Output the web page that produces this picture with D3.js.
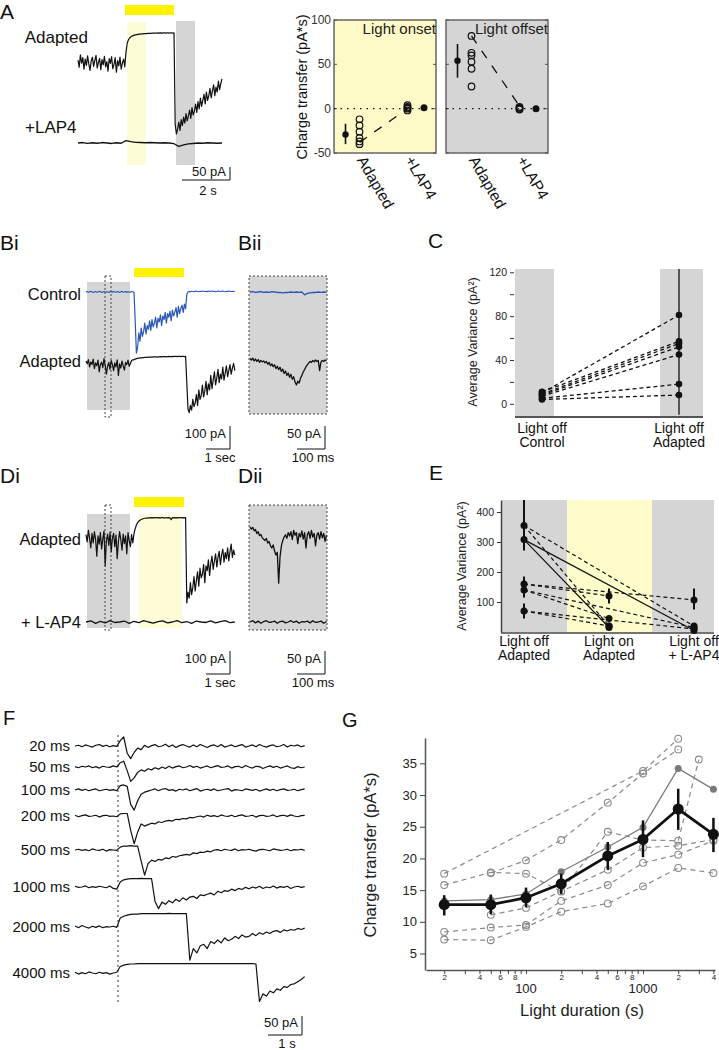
<!DOCTYPE html>
<html><head><meta charset="utf-8">
<script src="https://cdn.jsdelivr.net/npm/d3@7"></script>
<style>
body{margin:0;background:#fff;}
svg{display:block;font-family:"Liberation Sans",Arial,Helvetica,sans-serif;}
</style></head><body>
<svg id="c" width="719" height="1050"></svg>
<script>
// ================= DATA =================
// Panel A traces (pA; adapted every 0.05 s, LAP4 every 0.2 s)
const aAdapted = [8,-22,30,-5,18,-30,12,-14,26,-8,-35,4,20,-18,6,28,-25,-2,15,-32,
  10,-12,24,-20,2,-38,14,-6,22,-28,-10,18,-42,6,-16,20,-30,-4,12,-20,
  40,78,92,100,105,108,110,112,113,114,115,116,116,117,117,118,118,118,119,119,119,119,120,120,120,120,120,121,120,121,120,121,121,120,121,121,120,121,121,120,121,
  -260,-300,-280,-250,-285,-240,-265,-230,-255,-215,-245,-225,-200,-235,-190,-220,-205,-175,-210,-165,
  -195,-150,-185,-160,-135,-175,-125,-160,-140,-110,-150,-120,-95,-140,-105,-125,-80,-115,-90,-70];
const aLap4 = [0,2,-2,1,-1,2,0,-2,1,-1,10,6,3,2,1,2,1,0,1,0,-3,-14,-8,-4,-2,0,-1,1,0,-1,0];
// Panel A charge transfer (pA*s)
const onsetAdapted = [-12,-19,-26,-33,-37,-40];
const onsetLap4 = [4,2,0,-2,1];
const onsetMean = {adapted:-29, lo:-40, hi:-17, lap4:1};
const onsetLink = [-38,0];
const offsetAdapted = [82,63,60,53,45,25];
const offsetLap4 = [2,1,0,-1];
const offsetMean = {adapted:54, lo:35, hi:73, lap4:0};
const offsetLink = [82,3];
const aTicks = [-50,0,50,100];

// Panel Bi traces (pA, every 0.05 s)
const biControl = [0,2,-1,1,3,0,-2,1,2,-1,0,3,1,-2,0,2,-1,1,0,-2,2,1,-1,3,0,-1,2,0,-2,1,3,-1,0,2,-2,1,0,-1,2,0,
  0,-120,-255,-230,-170,-205,-150,-185,-165,-130,-175,-140,-155,-120,-160,-115,-145,-130,-105,-150,
  -110,-125,-95,-140,-100,-115,-85,-130,-90,-105,-80,-120,-75,-100,-85,-65,-105,-60,-90,-70,-55,-85,-50,-70,
  -10,0,2,1,3,2,1,3,4,2,1,3,2,4,3,2,3,1,4,2,3,4,2,3,1,2,4,3,2,3,4,2,1,3,2,4,3,2,3,2,3];
const biAdapted = [0,-12,6,-25,-4,-15,8,-32,-8,-20,4,-45,-14,-5,-28,10,-18,-55,-22,-6,
  -35,2,-15,-40,-8,-25,5,-60,-12,-30,0,-20,-38,-6,-15,4,-22,-10,2,5,
  5,8,10,11,12,13,13,14,14,15,15,15,16,16,16,16,17,17,17,16,17,17,18,17,18,18,18,17,18,19,18,18,19,18,19,19,18,19,19,18,19,19,18,19,
  -90,-200,-215,-185,-205,-160,-190,-175,-140,-185,-120,-160,-145,-100,-150,-125,-85,-140,-95,-120,
  -60,-115,-80,-45,-100,-70,-35,-90,-55,-75,-25,-80,-50,-20,-65,-40,-15,-55,-30,-10,-40];
// Panel Bii traces (pA; control every 10 ms, adapted every 5 ms)
const biiControl = [0,1,-1,0,1,-1,0,-1,1,0,-1,-1,-2,-1,-1,0,-1,0,-1,0,-6,-3,-2,-1,-1,0,-1,0,-1];
const biiAdapted = [3,0,4,-2,2,-3,1,-5,-1,-4,-2,-6,-3,-9,-5,-12,-8,-14,-10,-18,-13,
  -20,-15,-24,-19,-28,-23,-32,-27,-36,-30,-40,-35,-46,-52,-44,-48,-38,-32,-25,-20,
  -14,-10,-6,-3,-5,-1,-4,0,-3,-1,-22,-4,-1,-3,0,-2];

// Panel C (pA^2)
const cCategories = ['Light off|Control','Light off|Adapted'];
const cControl = [10,11,9,8,7,5,4];
const cAdapted = [81,57,55,52,45,18,8];
const cAdaptedErr = [-10,123];
const cTicks = [0,20,40,60,80,100,120];

// Panel Di / Dii traces (pA)
const diAdapted = [10,-20,28,-5,-45,15,-25,22,-10,-80,5,-30,18,-50,-8,25,-120,-15,12,-35,
  20,-60,-5,15,-40,8,-90,-20,22,-10,-55,12,-28,5,-70,18,-15,-40,10,-25,
  15,35,50,60,66,70,73,75,77,78,79,79,80,80,81,80,81,80,81,81,80,81,80,81,81,80,79,81,80,81,80,72,81,80,81,80,81,80,81,81,80,81,80,81,
  -275,-230,-255,-190,-240,-210,-165,-225,-180,-145,-205,-130,-170,-155,-115,-190,-120,-140,-95,-160,
  -110,-80,-135,-100,-70,-125,-85,-60,-115,-75,-50,-105,-65,-90,-45,-100,-60,-30,-85,-55,-75];
const diLap4 = [0,5,-6,3,-4,6,-2,0,4,-6,3,-3,6,0,-5,2,5,-4,0,6,-3,2,-6,4,0,-2,5,-4,2,6,-3,0];
const diiAdapted = [23,18,22,14,17,8,12,3,6,-2,-5,-8,-3,-14,-10,-20,-25,-18,-32,-41,
  -35,-105,-45,-20,-8,0,5,-3,10,2,12,-6,15,4,10,-15,8,0,14,-5,
  10,-25,5,12,-3,15,0,8,-20,5,10,-5,12,-2,8,-10,4];
const diiLap4 = [0,3,-2,2,-3,1,3,-1,0,2,-3,1,2,-2,0,3,-1,2,-3,1,0,2,-2,3,-1,0,2,-3,1];

// Panel E (pA^2): [light off adapted, light on adapted, light off + L-AP4]
const eCategories = ['Light off|Adapted','Light on|Adapted','Light off|+ L-AP4'];
const eOff  = [355,308,160,140,70];
const eOn   = [20,15,120,45,20];
const eLap4 = [20,5,107,15,10];
const eOffErr  = [[300,445],[272,345],[140,185],[115,165],[45,95]];
const eOnErr   = [[15,25],[10,20],[95,145],[35,55],[12,28]];
const eLap4Err = [[14,26],[2,10],[75,145],[8,22],[5,15]];
const eSolid = [false,true,false,false,false];
const eTicks = [100,200,300,400];

// Panel F traces (pA, every 0.1 s)
const fLabels = ['20 ms','50 ms','100 ms','200 ms','500 ms','1000 ms','2000 ms','4000 ms'];
const f20 = [0,2,-2,3,0,-3,2,4,-1,2,-2,1,-1, 15,25,-20,-35,-18,-6,-10,
  2,-4,1,4,-2,0,5,-2,3,-4,1,4,0,-3,3,-2,4,0,-4,1,3,-2,4,-3,0,3,-2,1,4,-3,0,3,-2,4,0,-3,1,3,-2,0,4,-3,2,0,3,-2,1];
const f50 = [1,-2,2,0,3,-2,1,-3,2,0,-1,3,0, 12,16,-10,-40,-30,-15,-8,-12,
  -5,-8,-2,-6,0,-4,2,-3,1,3,-2,0,4,-1,2,-3,0,3,-2,1,4,-1,0,3,-3,1,2,-2,4,0,-3,2,1,-4,0,3,-1,2,-3,0,3,-2,-4,1,-2,0];
const f100 = [0,3,-1,2,-2,1,3,-2,0,2,-1,1,-2, 12,14,10,-40,-56,-30,-12,-6,-3,
  0,3,-2,2,4,-1,1,-3,2,0,3,-2,1,4,-3,0,2,-1,3,-2,0,2,4,-3,1,0,-2,3,1,-1,2,-3,0,3,-1,2,-2,1,3,-1,0,2,-2,1,3];
const f200 = [2,-2,1,3,-1,0,2,-3,1,2,-1,0,-2,
  6,7,7,-40,-77,-45,-22,-28,-24,-20,-22,-16,-18,-14,-12,-14,-9,-10,-7,-8,-4,-5,-2,
  0,-3,2,-1,1,-2,3,0,-1,2,-2,1,3,-1,0,2,-3,1,2,-1,0,3,-2,1,2,-1,3,0,-2,1,2];
const f500 = [0,2,-1,1,-2,3,0,-1,2,-3,1,0,-1, 8,11,11,12,11,11,
  -30,-70,-38,-28,-32,-26,-28,-22,-24,-18,-20,-16,-14,-12,-14,-8,-10,-6,-7,-3,-5,0,
  1,-2,2,0,-1,3,-2,1,0,2,-1,-3,1,2,0,-2,3,1,-1,0,2,-2,1,0,2,-1];
const f1000 = [2,-1,0,3,-2,1,-1,2,0,-2,3,-4,-6, 14,20,22,23,23,23,24,23,23,23,
  -40,-60,-42,-48,-38,-44,-34,-40,-30,-36,-28,-26,-32,-22,-24,-20,-17,-22,-12,-16,-10,-12,-6,-10,
  -4,-7,-1,-5,0,-3,2,-4,0,-2,3,-3,1,-1,2,-4,0,2,-1,1];
const f2000 = [3,-2,4,0,-3,2,-1,3,-2,1,0,2,-1,
  25,30,33,35,36,36,37,37,37,37,37,37,37,37,38,37,37,37,37,37,
  -92,-60,-72,-52,-48,-60,-40,-46,-36,-44,-30,-38,-34,-26,-32,-22,-28,-26,-18,-24,-16,-20,-14,-18,-12,-10,-15,-8,-11,-7,-9,-4,-7,-3];
const f4000 = [2,-3,1,-2,3,0,-2,2,-1,1,-3,0,2,
  18,22,24,25,25,26,26,26,26,26,26,26,26,26,26,26,26,26,26,26,26,26,26,26,26,26,26,26,26,26,26,26,26,26,26,26,26,26,26,25,
  -79,-58,-64,-50,-55,-44,-48,-38,-40,-32,-30,-24,-18,-10];

// Panel G (charge transfer pA*s vs light duration ms)
const gDur    = [20,50,100,200,500,1000,2000,4000];
const gMean   = [12.7,12.7,13.8,16.0,20.4,23.0,27.8,23.8];
const gErrLo  = [11.0,11.2,12.3,14.4,18.2,20.2,24.5,21.0];
const gErrHi  = [14.2,14.3,15.4,17.6,22.6,26.0,31.0,26.4];
const gGray   = [13.3,13.5,14.4,17.9,21.8,24.9,34.2,30.9];
const gCell1Dur = [20,1000,2000],                 gCell1 = [17.6,33.8,38.9];
const gCell2Dur = [50,100,200,500,1000,2000],     gCell2 = [17.7,19.7,22.9,28.8,33.4,37.2];
const gCell3Dur = [20,50,100,200,500,1000,2000,3000], gCell3 = [15.8,17.8,17.6,14.8,24.2,22.9,22.8,35.6];
const gCell4Dur = [50,100,200,500,1000,2000,4000], gCell4 = [11.1,12.2,14.8,18.2,21.7,22.0,23.0];
const gCell5Dur = [20,50,100,200,500,1000,2000,4000], gCell5 = [8.4,9.1,9.5,13.3,15.8,19.3,20.6,22.8];
const gCell6Dur = [20,50,100,200,500,1000,2000,4000], gCell6 = [7.2,7.1,9.2,11.6,12.9,15.6,18.5,17.7];
const gYTicks = [5,10,15,20,25,30,35];
const gXTicks = [20,30,40,50,60,70,80,90,100,200,300,400,500,600,700,800,900,1000,2000,3000,4000];

// ================= DRAWING =================
const svg = d3.select('#c');
const INK = '#111', GRAY = '#d5d5d5', PALE = '#fdfac8', BRIGHT = '#fff200', BLUE = '#2a56b8';

function text(g, x, y, s, o = {}) {
  const t = g.append('text').attr('x', x).attr('y', y).text(s)
    .attr('font-size', o.size || 14).attr('text-anchor', o.anchor || 'start')
    .attr('fill', o.fill || INK);
  if (o.transform) t.attr('transform', o.transform);
  return t;
}
function rect(g, x0, y0, x1, y1, fill, o = {}) {
  const r = g.append('rect').attr('x', x0).attr('y', y0).attr('width', x1 - x0).attr('height', y1 - y0).attr('fill', fill);
  if (o.stroke) r.attr('stroke', o.stroke).attr('stroke-width', o.sw || 1).attr('stroke-dasharray', o.dash || null);
  return r;
}
function line(g, x1, y1, x2, y2, o = {}) {
  return g.append('line').attr('x1', x1).attr('y1', y1).attr('x2', x2).attr('y2', y2)
    .attr('stroke', o.color || INK).attr('stroke-width', o.w || 1).attr('stroke-dasharray', o.dash || null);
}
function trace(g, vals, o) {
  const xs = d3.scaleLinear().domain([0, 1]).range([o.x0, o.x0 + o.pxPerUnit]);
  const ys = d3.scaleLinear().domain([0, 1]).range([o.y0, o.y0 - o.pxPerPA]);
  const ln = d3.line().x((d, i) => xs(i * o.dt)).y(d => ys(d));
  g.append('path').attr('d', ln(vals)).attr('fill', 'none').attr('stroke', o.color || INK)
    .attr('stroke-width', o.w || 1.2).attr('stroke-linejoin', 'round');
}
function scaleBar(g, x, yTop, yBot, xLeft, vLab, vLabY, hLab, hLabY, size) {
  line(g, x, yTop, x, yBot); line(g, xLeft, yBot, x, yBot);
  text(g, x - 4, vLabY, vLab, {size: size || 13, anchor: 'end'});
  text(g, (xLeft + x) / 2 + 2, hLabY, hLab, {size: size || 13, anchor: 'middle'});
}

// ---------- Panel A ----------
const gA = svg.append('g');
text(gA, 0, 19, 'A', {size: 21});
rect(gA, 125, 5, 174, 15, BRIGHT);
rect(gA, 127, 22, 146, 165, '#fefcd6');
rect(gA, 176, 21, 195, 165, GRAY);
text(gA, 88, 43, 'Adapted', {size: 17, anchor: 'end'});
text(gA, 25, 133, '+LAP4', {size: 17});
trace(gA, aAdapted, {x0: 78, pxPerUnit: 24, dt: 0.05, y0: 62, pxPerPA: 0.24, w: 1.2});
trace(gA, aLap4, {x0: 78, pxPerUnit: 24, dt: 0.2, y0: 143, pxPerPA: 0.24, w: 1.3});
scaleBar(gA, 230, 167, 180, 182, '50 pA', 176, '2 s', 195, 13);

// A right: charge transfer
const aY = d3.scaleLinear().domain([-50, 100]).range([153, 20]);
const aSlots = d3.scaleOrdinal().domain(['mA', 'A', 'L', 'mL']).range([11.5, 25.5, 73.5, 90]);
text(gA, 0, 0, 'Charge transfer (pA*s)', {size: 14.5, anchor: 'middle', transform: 'translate(307,87) rotate(-90)'});
aTicks.forEach(t => text(gA, 331, aY(t) + 4, t, {size: 12, anchor: 'end', fill: '#333'}));
function aPanel(left, fill, label, pts, lap, mean, link) {
  const w = 102;
  const X = k => left + aSlots(k);
  rect(gA, left, aY(100), left + w, aY(-50), fill, {stroke: '#666', sw: 1.5});
  aTicks.forEach(t => { line(gA, left, aY(t), left + 3, aY(t), {color: '#555'}); line(gA, left + w - 3, aY(t), left + w, aY(t), {color: '#555'}); });
  line(gA, left, aY(0), left + w, aY(0), {dash: '1.5,5', w: 1.3});
  text(gA, left + w, 34, label, {size: 15, anchor: 'end', fill: '#222'});
  line(gA, X('A'), aY(link[0]), X('L'), aY(link[1]), {dash: '9,9', w: 1.3});
  line(gA, X('mA'), aY(mean.lo), X('mA'), aY(mean.hi), {w: 1.6});
  gA.append('circle').attr('cx', X('mA')).attr('cy', aY(mean.adapted)).attr('r', 3.2).attr('fill', INK);
  gA.append('circle').attr('cx', X('mL')).attr('cy', aY(mean.lap4)).attr('r', 3.5).attr('fill', INK);
  pts.forEach(v => gA.append('circle').attr('cx', X('A')).attr('cy', aY(v)).attr('r', 3.3).attr('fill', 'none').attr('stroke', INK).attr('stroke-width', 1.2));
  lap.forEach(v => gA.append('circle').attr('cx', X('L')).attr('cy', aY(v)).attr('r', 3.3).attr('fill', 'none').attr('stroke', INK).attr('stroke-width', 1.2));
  text(gA, 0, 0, 'Adapted', {size: 15.5, transform: `translate(${X('A') - 3},160) rotate(60)`});
  text(gA, 0, 0, '+LAP4', {size: 15.5, transform: `translate(${X('L') - 3},160) rotate(60)`});
}
aPanel(334, PALE, 'Light onset', onsetAdapted, onsetLap4, onsetMean, onsetLink);
aPanel(446, GRAY, 'Light offset', offsetAdapted, offsetLap4, offsetMean, offsetLink);

// ---------- Panel Bi / Bii ----------
const gB = svg.append('g');
text(gB, 0, 250, 'Bi', {size: 21});
text(gB, 238, 250, 'Bii', {size: 21});
rect(gB, 134, 268, 184, 277, BRIGHT);
rect(gB, 87, 282, 130, 410, GRAY);
rect(gB, 105, 276, 111, 417, 'none', {stroke: '#444', dash: '2,2'});
text(gB, 81, 300, 'Control', {size: 16.5, anchor: 'end'});
text(gB, 81, 367, 'Adapted', {size: 16.5, anchor: 'end'});
trace(gB, biControl, {x0: 86, pxPerUnit: 24, dt: 0.05, y0: 292, pxPerPA: 0.24, color: BLUE, w: 1.2});
trace(gB, biAdapted, {x0: 86, pxPerUnit: 24, dt: 0.05, y0: 361, pxPerPA: 0.24, w: 1.2});
scaleBar(gB, 230, 426, 449, 206, '100 pA', 438, '1 sec', 462, 13);
rect(gB, 249, 276, 327, 414, GRAY, {stroke: '#444', dash: '2,2'});
trace(gB, biiControl, {x0: 250, pxPerUnit: 0.273, dt: 10, y0: 292, pxPerPA: 0.48, color: BLUE, w: 1.3});
trace(gB, biiAdapted, {x0: 250, pxPerUnit: 0.273, dt: 5, y0: 360, pxPerPA: 0.48, w: 1.3});
scaleBar(gB, 325, 426, 449, 297, '50 pA', 438, '100 ms', 462, 13);

// ---------- Panel C ----------
const gC = svg.append('g');
text(gC, 428, 248, 'C', {size: 21});
const cY = d3.scaleLinear().domain([-12, 123]).range([417, 269]);
const cX = d3.scalePoint().domain(cCategories).range([542, 679]);
rect(gC, 515, 269, 554, 417, GRAY);
rect(gC, 660, 269, 703, 417, GRAY);
const cAx = gC.append('g').attr('transform', 'translate(514,0)')
  .call(d3.axisLeft(cY).tickValues(cTicks).tickSize(4).tickSizeOuter(0).tickFormat(d => d % 40 === 0 ? d : ''));
cAx.select('.domain').remove();
cAx.selectAll('line').attr('stroke', '#333');
cAx.selectAll('text').attr('font-size', 10.5).attr('fill', '#222').attr('font-family', null);
line(gC, 515, 417, 703, 417, {color: '#555', w: 2});
text(gC, 0, 0, 'Average Variance (pA²)', {size: 12.5, anchor: 'middle', fill: '#222', transform: 'translate(477,342) rotate(-90)'});
cControl.forEach((v, i) => line(gC, cX(cCategories[0]), cY(v), cX(cCategories[1]), cY(cAdapted[i]), {dash: '4,3', w: 1.3}));
line(gC, cX(cCategories[1]), cY(cAdaptedErr[0]), cX(cCategories[1]), cY(cAdaptedErr[1]), {w: 1.3});
cControl.forEach(v => gC.append('circle').attr('cx', cX(cCategories[0])).attr('cy', cY(v)).attr('r', 3.3).attr('fill', INK));
cAdapted.forEach(v => gC.append('circle').attr('cx', cX(cCategories[1])).attr('cy', cY(v)).attr('r', 3.3).attr('fill', INK));
cCategories.forEach(c => {
  const [l1, l2] = c.split('|');
  text(gC, cX(c), 433, l1, {size: 14, anchor: 'middle'});
  text(gC, cX(c), 447, l2, {size: 14, anchor: 'middle'});
});

// ---------- Panel Di / Dii ----------
const gD = svg.append('g');
text(gD, 0, 483, 'Di', {size: 21});
text(gD, 238, 483, 'Dii', {size: 21});
rect(gD, 134, 497, 184, 507, BRIGHT);
rect(gD, 87, 514, 130, 628, GRAY);
rect(gD, 139, 514, 182, 628, '#fefcd6');
rect(gD, 105, 505, 111, 630, 'none', {stroke: '#444', dash: '2,2'});
text(gD, 81, 545, 'Adapted', {size: 16.5, anchor: 'end'});
text(gD, 81, 628, '+ L-AP4', {size: 16.5, anchor: 'end'});
trace(gD, diAdapted, {x0: 86, pxPerUnit: 24, dt: 0.05, y0: 537, pxPerPA: 0.24, w: 1.2});
trace(gD, diLap4, {x0: 86, pxPerUnit: 24, dt: 0.2, y0: 622, pxPerPA: 0.24, w: 1.3});
scaleBar(gD, 230, 651, 674, 206, '100 pA', 663, '1 sec', 687, 13);
rect(gD, 249, 505, 327, 630, GRAY, {stroke: '#444', dash: '2,2'});
trace(gD, diiAdapted, {x0: 250, pxPerUnit: 0.273, dt: 5, y0: 537, pxPerPA: 0.44, w: 1.3});
trace(gD, diiLap4, {x0: 250, pxPerUnit: 0.273, dt: 10, y0: 622, pxPerPA: 0.44, w: 1.3});
scaleBar(gD, 325, 651, 674, 297, '50 pA', 663, '100 ms', 687, 13);

// ---------- Panel E ----------
const gE = svg.append('g');
text(gE, 429, 480, 'E', {size: 21});
const eY = d3.scaleLinear().domain([0, 440]).range([632, 500]);
const eX = d3.scalePoint().domain(eCategories).range([524, 694]);
rect(gE, 502, 500, 567, 632, GRAY);
rect(gE, 567, 500, 652, 632, '#fffccb');
rect(gE, 652, 500, 714, 632, GRAY);
const eAx = gE.append('g').attr('transform', 'translate(501,0)')
  .call(d3.axisLeft(eY).tickValues(eTicks).tickSize(4).tickSizeOuter(0));
eAx.select('.domain').attr('stroke', '#444').attr('stroke-width', 1.5);
eAx.selectAll('line').attr('stroke', '#333');
eAx.selectAll('text').attr('font-size', 10.5).attr('fill', '#222').attr('font-family', null);
line(gE, 501, 633, 714, 633, {color: '#444', w: 1.5});
text(gE, 0, 0, 'Average Variance (pA²)', {size: 12.5, anchor: 'middle', fill: '#222', transform: 'translate(466,566) rotate(-90)'});
eOff.forEach((v, i) => {
  const o = eSolid[i] ? {w: 1.2} : {dash: '4,3', w: 1.2};
  line(gE, eX(eCategories[0]), eY(v), eX(eCategories[1]), eY(eOn[i]), o);
  line(gE, eX(eCategories[0]), eY(v), eX(eCategories[2]), eY(eLap4[i]), o);
});
[[eOff, eOffErr], [eOn, eOnErr], [eLap4, eLap4Err]].forEach(([vals, errs], k) => {
  const x = eX(eCategories[k]);
  vals.forEach((v, i) => {
    line(gE, x, eY(errs[i][0]), x, eY(Math.min(errs[i][1], 440)), {w: 2});
    gE.append('circle').attr('cx', x).attr('cy', eY(v)).attr('r', 3.5).attr('fill', INK);
  });
});
eCategories.forEach(c => {
  const [l1, l2] = c.split('|');
  text(gE, eX(c), 646, l1, {size: 14, anchor: 'middle'});
  text(gE, eX(c), 660, l2, {size: 14, anchor: 'middle'});
});

// ---------- Panel F ----------
const gF = svg.append('g');
text(gF, 3, 725, 'F', {size: 20});
const fTraces = [f20, f50, f100, f200, f500, f1000, f2000, f4000];
const fBase = [746, 767, 790, 816, 850, 887, 927, 973];
line(gF, 118, 735, 118, 1005, {dash: '2,3', color: '#333'});
fTraces.forEach((vals, i) => {
  trace(gF, vals, {x0: 75, pxPerUnit: 34.8, dt: 0.1, y0: fBase[i], pxPerPA: 0.36, w: 1.2});
  text(gF, 70, fBase[i] + 5, fLabels[i], {size: 15, anchor: 'end'});
});
scaleBar(gF, 302, 1016, 1035, 268, '50 pA', 1027, '1 s', 1048, 13);

// ---------- Panel G ----------
const gG = svg.append('g');
text(gG, 342, 727, 'G', {size: 20});
const gx = d3.scaleLog().domain([13.97, 4125]).range([426, 715]);
const gy = d3.scaleLinear().domain([2.4, 39]).range([970, 738]);
const gyAx = gG.append('g').attr('transform', 'translate(425,0)')
  .call(d3.axisLeft(gy).tickValues(gYTicks).tickSize(5).tickSizeOuter(0));
gyAx.select('.domain').attr('stroke', '#555').attr('stroke-width', 1.5);
gyAx.selectAll('line').attr('stroke', '#444');
gyAx.selectAll('text').attr('font-size', 13).attr('fill', '#222').attr('font-family', null);
const leadDigit = d => Math.round(d / Math.pow(10, Math.floor(Math.log10(d) + 1e-9)));
const gxAx = gG.append('g').attr('transform', 'translate(0,970)')
  .call(d3.axisBottom(gx).tickValues(gXTicks).tickSize(4).tickSizeOuter(0)
    .tickFormat(d => [2, 4, 6, 8].includes(leadDigit(d)) ? leadDigit(d) : ''));
gxAx.select('.domain').attr('stroke', '#555').attr('stroke-width', 1.5);
gxAx.selectAll('line').attr('stroke', '#444');
gxAx.selectAll('text').attr('font-size', 8).attr('fill', '#222').attr('font-family', null).attr('y', 5).attr('dy', '0.6em');
[100, 1000].forEach(d => text(gG, gx(d), 993, d, {size: 13, anchor: 'middle', fill: '#222'}));
text(gG, 582, 1016, 'Light duration (s)', {size: 16.5, anchor: 'middle', fill: '#222'});
text(gG, 0, 0, 'Charge transfer (pA*s)', {size: 16.5, anchor: 'middle', fill: '#222', transform: 'translate(376,855) rotate(-90)'});
const gLine = d3.line().x(d => gx(d[0])).y(d => gy(d[1]));
const cells = [[gCell1Dur, gCell1], [gCell2Dur, gCell2], [gCell3Dur, gCell3], [gCell4Dur, gCell4], [gCell5Dur, gCell5], [gCell6Dur, gCell6]];
cells.forEach(([ds, vs]) => {
  const pts = ds.map((d, i) => [d, vs[i]]);
  gG.append('path').attr('d', gLine(pts)).attr('fill', 'none').attr('stroke', '#8a8a8a').attr('stroke-width', 1.2).attr('stroke-dasharray', '5,4');
  pts.forEach(p => gG.append('circle').attr('cx', gx(p[0])).attr('cy', gy(p[1])).attr('r', 3.4).attr('fill', 'none').attr('stroke', '#8a8a8a').attr('stroke-width', 1.1));
});
const grayPts = gDur.map((d, i) => [d, gGray[i]]);
gG.append('path').attr('d', gLine(grayPts)).attr('fill', 'none').attr('stroke', '#7a7a7a').attr('stroke-width', 1.3);
grayPts.forEach(p => gG.append('circle').attr('cx', gx(p[0])).attr('cy', gy(p[1])).attr('r', 3.5).attr('fill', '#7a7a7a'));
const meanPts = gDur.map((d, i) => [d, gMean[i]]);
gDur.forEach((d, i) => line(gG, gx(d), gy(gErrLo[i]), gx(d), gy(gErrHi[i]), {w: 2.5}));
gG.append('path').attr('d', gLine(meanPts)).attr('fill', 'none').attr('stroke', INK).attr('stroke-width', 2.8);
meanPts.forEach(p => gG.append('circle').attr('cx', gx(p[0])).attr('cy', gy(p[1])).attr('r', 5.5).attr('fill', INK));
</script></body></html>
